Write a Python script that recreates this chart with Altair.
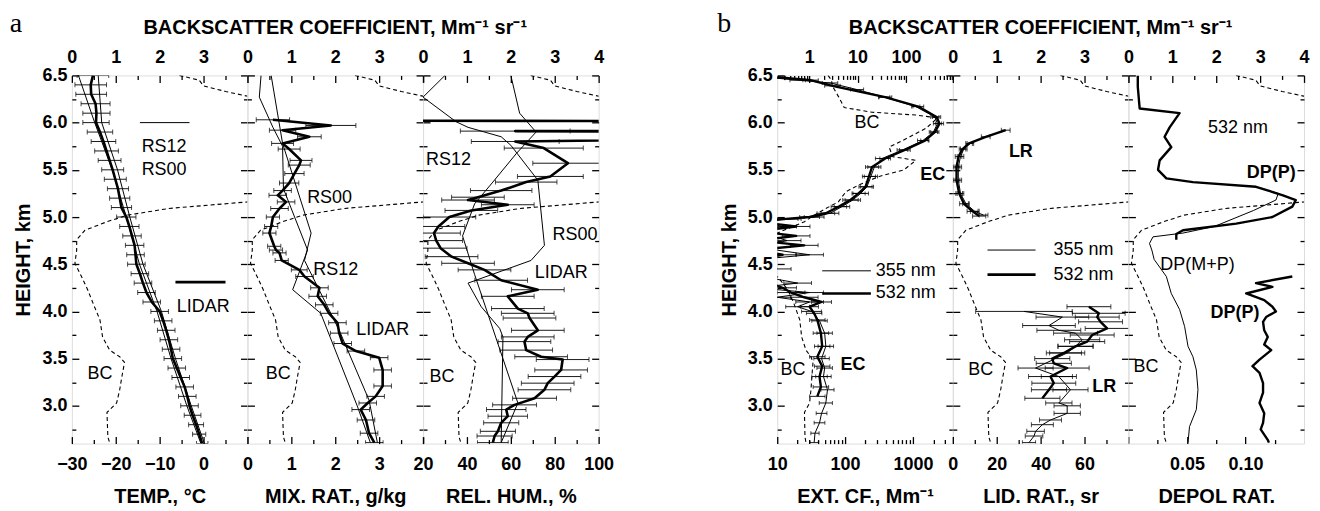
import altair as alt
import pandas as pd

FONT = "Liberation Sans"
W, HGT = 176, 369

# ---------------- data ----------------
# backscatter coefficient (BC), Mm-1 sr-1, common to all panels
BC_H = [6.50, 6.45, 6.39, 6.33, 6.27, 6.16, 6.11, 6.08, 6.05, 5.94, 5.81, 5.74, 5.64, 5.60, 5.50, 5.43, 5.34, 5.27,
        5.16, 5.09, 5.02, 4.95, 4.86, 4.76, 4.65, 4.51, 4.36, 4.23, 4.09, 3.91, 3.73, 3.59, 3.52, 3.46, 3.31, 3.17,
        3.03, 2.93, 2.67, 2.61]
BC_V = [2.45, 2.9, 3.0, 3.5, 4.1, 5.3, 20, 160, 450, 260, 85, 45, 53, 160, 91, 28, 10.7, 5.8,
        4.0, 2.2, 1.27, 0.8, 0.3, 0.11, 0.11, 0.07, 0.23, 0.36, 0.48, 0.64, 0.70, 0.86, 1.09, 1.20, 1.14, 1.09,
        1.02, 0.80, 0.82, 0.86]

# (a) temperature
T_H = [6.5, 6.4, 6.3, 6.2, 6.1, 6.0, 5.9, 5.8, 5.7, 5.6, 5.5, 5.4, 5.3, 5.2, 5.1, 5.0, 4.9, 4.8, 4.7, 4.6,
       4.5, 4.4, 4.3, 4.2, 4.1, 4.0, 3.9, 3.8, 3.7, 3.6, 3.5, 3.4, 3.3, 3.2, 3.1, 3.0, 2.9, 2.8, 2.7, 2.6]
T_LIDAR = [-25.2, -25.7, -25.6, -24.6, -24.4, -24.5, -23.6, -22.8, -22.1, -21.4, -20.7, -20.1, -19.5, -19.1, -18.7,
           -17.6, -16.9, -16.3, -15.7, -15.5, -15.3, -14.5, -13.8, -13.0, -11.8, -10.0, -9.2, -8.5, -7.9, -7.4,
           -7.0, -6.1, -5.2, -4.3, -3.7, -3.2, -2.5, -1.7, -1.0, -0.3]
T_ERR = [3.6, 3.6, 3.5, 3.3, 3.1, 3.0, 2.9, 2.8, 2.7, 2.6, 2.5, 2.5, 2.4, 2.3, 2.3, 2.2, 2.2, 2.1, 2.1, 2.0,
         2.0, 2.0, 2.0, 2.0, 2.0, 2.0, 2.0, 2.0, 2.0, 2.0, 2.0, 2.0, 2.0, 2.0, 2.0, 2.0, 1.9, 1.7, 1.5, 1.3]
RS_T_H = [6.5, 6.0, 5.5, 5.0, 4.5, 4.0, 3.5, 3.0, 2.6]
RS12_T = [-28.5, -24.8, -20.8, -17.6, -14.6, -10.6, -7.4, -3.8, -0.6]
RS00_T = [-24.0, -23.2, -19.6, -16.8, -13.8, -9.6, -6.4, -2.8, 0.2]

# (a) mixing ratio
MR_H = [6.03, 5.97, 5.92, 5.85, 5.78, 5.72, 5.60, 5.55, 5.46, 5.36, 5.28, 5.23, 5.16, 5.09, 5.00, 4.90, 4.83,
        4.69, 4.65, 4.62, 4.54, 4.44, 4.37, 4.25, 4.16, 4.07, 3.98, 3.88, 3.77, 3.66, 3.58, 3.51, 3.38, 3.21,
        3.10, 3.03, 2.96, 2.85, 2.71, 2.61]
MR_LIDAR = [0.58, 1.90, 0.80, 1.41, 0.80, 0.95, 1.22, 1.18, 1.07, 0.95, 0.80, 0.69, 0.88, 0.73, 0.58, 0.54, 0.50,
            0.61, 0.65, 0.73, 0.78, 1.18, 1.30, 1.64, 1.60, 1.75, 1.86, 2.05, 2.09, 2.17, 2.47, 3.00, 3.08, 3.08,
            2.92, 2.74, 2.58, 2.70, 2.77, 2.89]
MR_ERR = [0.38, 0.57, 0.30, 0.27, 0.25, 0.25, 0.25, 0.25, 0.22, 0.22, 0.20, 0.20, 0.20, 0.20, 0.15, 0.15, 0.15,
          0.15, 0.15, 0.15, 0.15, 0.18, 0.20, 0.20, 0.20, 0.20, 0.20, 0.20, 0.20, 0.20, 0.20, 0.20, 0.20, 0.20,
          0.20, 0.20, 0.20, 0.20, 0.20, 0.20]
RS12_MR_H = [6.5, 6.27, 5.95, 5.75, 5.30, 4.65, 4.23, 3.98, 3.0, 2.61]
RS12_MR = [0.31, 0.27, 0.58, 0.80, 0.82, 1.37, 1.03, 1.67, 2.50, 2.80]
RS00_MR_H = [6.5, 5.78, 4.83, 4.54, 3.80, 3.06, 2.61]
RS00_MR = [0.54, 0.80, 1.45, 1.30, 2.09, 2.77, 2.96]

# (a) relative humidity
RH_H = [6.02, 6.01, 5.915, 5.91, 5.895, 5.865, 5.80, 5.73, 5.57, 5.43, 5.37, 5.28, 5.21, 5.18, 5.13, 5.07, 5.00,
        4.90, 4.83, 4.75, 4.67, 4.58, 4.51, 4.44, 4.33, 4.23, 4.16, 4.03, 3.98, 3.93, 3.80, 3.73, 3.68, 3.59, 3.52,
        3.49, 3.38, 3.31, 3.24, 3.17, 3.08, 3.01, 2.96, 2.89, 2.82, 2.73, 2.68, 2.61]
RH_LIDAR = [0, 300, 300, 62, 300, 300, 62, 75, 86, 78, 67, 55.6, 45, 40.5, 58.6, 42, 32,
            27, 25, 26, 28, 33, 40.5, 48, 55.6, 72.3, 58.6, 63.2, 67.7, 68.5, 72.3, 67.7, 66.2, 67, 73.8,
            83.6, 82.9, 79.9, 76.8, 75.3, 70.8, 61.7, 57.9, 58.6, 55.6, 54.1, 52.6, 51.8]
RH_ERR = [0, 0, 0, 25, 0, 0, 20, 18, 16, 15, 14, 14, 12, 12, 12, 12, 12,
          12, 12, 12, 12, 12, 12, 12, 12, 12, 12, 12, 12, 12, 12, 12, 12, 12, 12,
          12, 12, 12, 12, 12, 10, 10, 9, 9, 8, 8, 8, 7]
RS12_RH_H = [6.5, 6.1, 5.9, 5.67, 5.37, 5.14, 4.80, 4.39, 3.03, 2.61]
RS12_RH = [60, 64, 71.5, 62.4, 51.8, 43.5, 38, 43.5, 63.2, 55.6]
RS00_RH_H = [6.5, 6.27, 6.01, 5.95, 5.85, 5.76, 5.39, 4.70, 4.54, 4.30, 4.05, 3.82, 3.73, 2.61]
RS00_RH = [30, 20, 35, 40.5, 55.6, 60, 72.3, 75.3, 69.2, 40.5, 46.5, 54.9, 56.4, 55.6]

# (b) extinction coefficient, Mm-1
EC532_H = [6.48, 6.45, 6.39, 6.27, 6.17, 6.06, 5.99, 5.90, 5.81, 5.71, 5.62, 5.53, 5.43, 5.32, 5.25, 5.18, 5.11,
           5.04, 5.00, 4.98, 4.95, 4.90, 4.85, 4.80, 4.75, 4.70, 4.65, 4.60, 4.55, 4.45, 4.35, 4.25, 4.20, 4.15,
           4.10, 4.05, 3.98, 3.91, 3.77, 3.63, 3.52, 3.42, 3.31, 3.20, 3.10]
EC532 = [10, 31, 65, 390, 1200, 2230, 2460, 2100, 1500, 760, 390, 250, 225, 200, 158, 120, 81,
         52, 30, 13.5, 5, 19, 5, 19, 5, 25, 5, 12, 5, 8, 5, 12, 16, 25,
         45, 30, 35, 39, 44, 46, 39, 46, 42, 44, 39]
EC532_F = [1.3, 1.3, 1.3, 1.25, 1.2, 1.15, 1.15, 1.15, 1.15, 1.2, 1.2, 1.25, 1.25, 1.25, 1.25, 1.3, 1.3,
           1.35, 1.4, 1.5, 1, 1.6, 1, 1.6, 1, 1.6, 1, 1.6, 1, 1, 1, 1.6, 1.6, 1.6,
           1.4, 1.35, 1.3, 1.3, 1.3, 1.3, 1.3, 1.3, 1.3, 1.3, 1.3]
EC355_H = [6.47, 6.45, 6.42, 6.35, 6.27, 6.17, 6.06, 5.99, 5.90, 5.81, 5.71, 5.62, 5.53, 5.43, 5.32, 5.25, 5.18,
           5.11, 5.04, 5.00, 4.98, 4.96, 4.90, 4.85, 4.75, 4.68, 4.60, 4.55, 4.45, 4.38, 4.30, 4.25, 4.20, 4.15,
           4.10, 4.05, 4.00, 3.90, 3.77, 3.63, 3.50, 3.40, 3.31, 3.17, 3.03, 2.92, 2.82, 2.71, 2.61]
EC355 = [10, 20, 60, 150, 380, 1100, 2100, 2300, 2000, 1400, 700, 350, 270, 240, 210, 170, 130,
         90, 60, 35, 15, 5, 12, 5, 14, 5, 30, 5, 10, 5, 20, 5, 30, 10,
         30, 20, 32, 42, 50, 52, 45, 50, 48, 55, 52, 45, 42, 36, 35]
EC355_F = [1.3, 1.3, 1.3, 1.25, 1.2, 1.15, 1.15, 1.15, 1.15, 1.2, 1.2, 1.25, 1.25, 1.25, 1.25, 1.3, 1.3,
           1.3, 1.35, 1.4, 1.5, 1, 1.6, 1, 1.6, 1, 1.6, 1, 1.6, 1, 1.6, 1, 1.6, 1.6,
           1.6, 1.5, 1.4, 1.3, 1.3, 1.3, 1.3, 1.3, 1.3, 1.25, 1.25, 1.2, 1.2, 1.15, 1.15]

# (b) lidar ratio, sr
LR532_H = [5.92, 5.85, 5.78, 5.72, 5.64, 5.53, 5.39, 5.25, 5.14, 5.06, 5.01,
           4.05, 3.98, 3.94, 3.89, 3.82, 3.75, 3.68, 3.63, 3.56, 3.50, 3.45, 3.40, 3.31, 3.24, 3.17, 3.08]
LR532 = [24.1, 15, 7.4, 4.4, 2.6, 1.7, 1.7, 2.9, 5.1, 9, 12,
         62, 66.5, 65.8, 67.3, 70.3, 63.5, 61.2, 55.9, 50.6, 45.3, 46, 52.1, 44.5, 46, 43.8, 40.8]
LR532_ERR = [2, 2, 1.5, 1.5, 1.5, 1.5, 1.5, 1.5, 2, 2.5, 3,
             10, 12, 10, 10, 10, 10, 8, 8, 8, 8, 8, 10, 10, 10, 8, 8]
LR532_SEG = [1] * 11 + [2] * 16
LR355_H = [5.78, 5.72, 5.64, 5.53, 5.39, 5.25, 5.14, 5.06, 5.02,
           4.00, 3.94, 3.85, 3.80, 3.77, 3.70, 3.63, 3.56, 3.40, 3.31, 3.17, 3.03, 3.00, 2.92, 2.85, 2.80,
           2.73, 2.68, 2.61]
LR355 = [8, 5, 3.5, 2.5, 2.5, 3.5, 6, 10, 14,
         32.4, 49.9, 43.8, 48.3, 55.9, 58.9, 55.9, 52.1, 37.7, 48.3, 53.6, 48.3, 52.1, 52.1, 44.5, 40.8,
         37.7, 37, 34.7]
LR355_ERR = [1.5, 1.5, 1.5, 1.5, 1.5, 1.5, 1.5, 2, 2,
             22, 12, 12, 10, 10, 8, 8, 8, 8, 8, 8, 6, 6, 6, 5, 5,
             4, 4, 3]
LR355_SEG = [1] * 9 + [2] * 19

# (b) depolarization ratio
DPP_H = [6.50, 6.38, 6.15, 6.10, 5.95, 5.85, 5.74, 5.60, 5.50, 5.41, 5.37, 5.32, 5.23, 5.18, 5.11, 5.00, 4.93,
         4.86, 4.82, 4.76,
         4.37, 4.30, 4.26, 4.19, 4.12, 4.05, 4.00, 3.94, 3.89, 3.80, 3.73, 3.65, 3.59, 3.49, 3.42, 3.35, 3.24,
         3.14, 3.03, 2.92, 2.82, 2.75, 2.64, 2.61]
DPP = [0.008, 0.008, 0.0096, 0.0437, 0.0352, 0.0309, 0.0366, 0.0267, 0.0253, 0.0324, 0.0551, 0.109, 0.132, 0.143,
       0.140, 0.123, 0.092, 0.0466, 0.0409, 0.0409,
       0.140, 0.109, 0.123, 0.1006, 0.116, 0.123, 0.126, 0.1176, 0.115, 0.116, 0.119, 0.116, 0.122, 0.112, 0.106,
       0.112, 0.115, 0.115, 0.112, 0.116, 0.115, 0.113, 0.119, 0.120]
DPP_SEG = [1] * 20 + [2] * 24
DPMP_H = [5.32, 5.25, 5.18, 5.07, 4.90, 4.83, 4.79, 4.72, 4.65, 4.55, 4.37, 4.19, 4.02, 3.84, 3.63, 3.52, 3.38,
          3.17, 2.96, 2.78, 2.61]
DPMP = [0.109, 0.128, 0.126, 0.107, 0.0735, 0.0466, 0.021, 0.018, 0.020, 0.022, 0.0324, 0.0366, 0.0437, 0.048,
        0.0509, 0.0551, 0.058, 0.0594, 0.058, 0.0522, 0.0509]

# axis tick values
Y_MAJOR = [3.0, 3.5, 4.0, 4.5, 5.0, 5.5, 6.0, 6.5]
Y_MINOR = [2.75, 3.25, 3.75, 4.25, 4.75, 5.25, 5.75, 6.25]
BC_MAJOR = [0, 1, 2, 3, 4]
BC_MINOR = [0.5, 1.5, 2.5, 3.5]

TITLE = "BACKSCATTER COEFFICIENT, Mm⁻¹ sr⁻¹"

LBL = 18      # tick label size
TTL = 20      # axis title size
ANN = 18      # annotation size

# ---------------- helpers ----------------
YS = alt.Scale(domain=[2.6, 6.5], nice=False, zero=False)


def lin(lo, hi):
    return alt.Scale(domain=[lo, hi], nice=False, zero=False)


def logs(lo, hi):
    return alt.Scale(type="log", domain=[lo, hi], nice=False)


def AX(orient, values, size, labels=False, title=None, fmt=None, lpad=4, tpad=8, labelvals=None):
    kw = dict(orient=orient, values=values, offset=-size, tickSize=size, tickWidth=1.3, tickColor="black",
              domain=False, grid=False, labels=labels, ticks=True)
    if labels:
        kw.update(labelFont=FONT, labelFontSize=LBL, labelFontWeight="bold", labelColor="black",
                  labelPadding=lpad, labelOverlap=False, labelFlush=False)
        if fmt:
            kw["format"] = fmt
        if labelvals is not None:
            cond = " || ".join(f"abs(datum.value - {v}) < 1e-9" for v in labelvals)
            kw["labelExpr"] = f"({cond}) ? datum.label : ''"
    if title:
        kw.update(title=title, titleFont=FONT, titleFontSize=TTL, titleFontWeight="bold", titleColor="black",
                  titlePadding=tpad)
    else:
        kw["title"] = None
    return alt.Axis(**kw)


def ldf(h, v, seg=None):
    d = pd.DataFrame({"h": h, "x": v, "i": list(range(len(h)))})
    if seg is not None:
        d["seg"] = seg
    return d


def line(d, xs, width, dash=None):
    kw = dict(color="black", strokeWidth=width, clip=True, strokeJoin="round")
    if dash:
        kw["strokeDash"] = dash
    enc = dict(x=alt.X("x:Q", scale=xs, axis=None), y=alt.Y("h:Q", scale=YS, axis=None), order=alt.Order("i:Q"))
    if "seg" in d.columns:
        enc["detail"] = alt.Detail("seg:N")
    return alt.Chart(d).mark_line(**kw).encode(**enc)


def errbars(h, lo, hi, xs, cap=5):
    rows = [(a, b, c) for a, b, c in zip(h, lo, hi) if c > b]
    d = pd.DataFrame(rows, columns=["h", "lo", "hi"])
    rule = alt.Chart(d).mark_rule(color="black", strokeWidth=0.9, clip=True).encode(
        x=alt.X("lo:Q", scale=xs, axis=None), x2="hi:Q", y=alt.Y("h:Q", scale=YS, axis=None))
    c = pd.DataFrame({"h": list(d["h"]) * 2, "c": list(d["lo"]) + list(d["hi"])})
    caps = alt.Chart(c).mark_tick(orient="vertical", size=cap, thickness=1, color="black", clip=True).encode(
        x=alt.X("c:Q", scale=xs, axis=None), y=alt.Y("h:Q", scale=YS, axis=None))
    return [rule, caps]


def text(t, h, x, xs, bold=False, align="left", size=ANN):
    d = pd.DataFrame({"h": [h], "x": [x], "t": [t]})
    return alt.Chart(d).mark_text(align=align, baseline="middle", font=FONT, fontSize=size,
                                  fontWeight="bold" if bold else "normal", color="black").encode(
        x=alt.X("x:Q", scale=xs, axis=None), y=alt.Y("h:Q", scale=YS, axis=None), text="t:N")


def letter(t, px, py):
    d = pd.DataFrame({"t": [t]})
    return alt.Chart(d).mark_text(font="Liberation Serif", fontSize=28, align="center", baseline="alphabetic",
                                  color="black").encode(x=alt.value(px), y=alt.value(py), text="t:N")


def group_title(px, py):
    d = pd.DataFrame({"t": [TITLE]})
    return alt.Chart(d).mark_text(font=FONT, fontSize=TTL, fontWeight="bold", align="center",
                                  baseline="alphabetic", color="black").encode(
        x=alt.value(px), y=alt.value(py), text="t:N")


def anchor(xs_mid):
    return pd.DataFrame({"x": [xs_mid], "h": [4.5]})


BC_DF = ldf(BC_H, BC_V)


def panel(children, xs, mid, x_major, x_minor, bc_xs, bc_mid, top_major, top_minor, first=False):
    a = anchor(mid)
    y_left = AX("left", Y_MAJOR, 7, labels=first, title="HEIGHT, km" if first else None, fmt=".1f",
                lpad=5, tpad=8)
    axA = alt.Chart(a).mark_point(opacity=0).encode(
        x=alt.X("x:Q", scale=xs, axis=x_major), y=alt.Y("h:Q", scale=YS, axis=y_left))
    axB = alt.Chart(a).mark_point(opacity=0).encode(
        x=alt.X("x:Q", scale=xs, axis=x_minor), y=alt.Y("h:Q", scale=YS, axis=AX("left", Y_MINOR, 4)))
    main = alt.layer(*children, axA, axB).resolve_axis(x="independent", y="independent")
    b = anchor(bc_mid)
    bcl = line(BC_DF, bc_xs, 1.1, dash=[4, 3])
    axC = alt.Chart(b).mark_point(opacity=0).encode(
        x=alt.X("x:Q", scale=bc_xs, axis=top_major), y=alt.Y("h:Q", scale=YS, axis=AX("right", Y_MAJOR, 7)))
    axD = alt.Chart(b).mark_point(opacity=0).encode(
        x=alt.X("x:Q", scale=bc_xs, axis=top_minor), y=alt.Y("h:Q", scale=YS, axis=AX("right", Y_MINOR, 4)))
    bc = alt.layer(bcl, axC, axD).resolve_axis(x="independent", y="independent")
    return alt.layer(main, bc).resolve_scale(x="independent").resolve_axis(
        x="independent", y="independent").properties(width=W, height=HGT)


BCS = lin(0, 4)


def top_axes(labelvals):
    return (AX("top", BC_MAJOR, 7, labels=True, fmt="d", lpad=9, labelvals=labelvals),
            AX("top", BC_MINOR, 4))


def bottom(values, title, fmt, labelvals=None):
    return AX("bottom", values, 7, labels=True, title=title, fmt=fmt, lpad=12, tpad=13, labelvals=labelvals)


# ---- panel a1: temperature ----
XT = lin(-30, 10)
a1_children = [
    line(ldf(RS_T_H, RS12_T), XT, 1),
    line(ldf(RS_T_H, RS00_T), XT, 1),
    *errbars(T_H, [v - e for v, e in zip(T_LIDAR, T_ERR)], [v + e for v, e in zip(T_LIDAR, T_ERR)], XT),
    line(ldf(T_H, T_LIDAR), XT, 2.6),
    line(ldf([6.0, 6.0], [-14.5, -3.2]), XT, 1),
    line(ldf([4.31, 4.31], [-6.4, 5.0]), XT, 2.6),
    text("RS12", 5.74, -14.1, XT), text("RS00", 5.50, -14.1, XT), text("LIDAR", 4.05, -6.1, XT),
    text("BC", 3.34, -23.6, XT, align="center"),
    letter("a", -56, -44),
]
tm, tn = top_axes([0, 1, 2, 3])
a1 = panel(a1_children, XT, -10,
           bottom([-30, -20, -10, 0, 10], "TEMP., °C", "d", labelvals=[-30, -20, -10, 0]),
           AX("bottom", [-25, -15, -5, 5], 4), BCS, 2, tm, tn, first=True)

# ---- panel a2: mixing ratio ----
XM = lin(0, 4)
a2_children = [
    line(ldf(RS12_MR_H, RS12_MR), XM, 1),
    line(ldf(RS00_MR_H, RS00_MR), XM, 1),
    *errbars(MR_H, [v - e for v, e in zip(MR_LIDAR, MR_ERR)], [v + e for v, e in zip(MR_LIDAR, MR_ERR)], XM),
    line(ldf(MR_H, MR_LIDAR), XM, 2.6),
    text("RS00", 5.20, 1.36, XM), text("RS12", 4.44, 1.50, XM), text("LIDAR", 3.80, 2.48, XM),
    text("BC", 3.34, 0.70, XM, align="center"),
    group_title(88, -42),
]
tm, tn = top_axes([0, 1, 2, 3])
a2 = panel(a2_children, XM, 2, bottom([0, 1, 2, 3, 4], "MIX. RAT., g/kg", "d", labelvals=[0, 1, 2, 3]),
           AX("bottom", [0.5, 1.5, 2.5, 3.5], 4), BCS, 2, tm, tn)

# ---- panel a3: relative humidity ----
XR = lin(20, 100)
a3_children = [
    line(ldf(RS12_RH_H, RS12_RH), XR, 1),
    line(ldf(RS00_RH_H, RS00_RH), XR, 1),
    *errbars(RH_H, [v - e for v, e in zip(RH_LIDAR, RH_ERR)], [v + e for v, e in zip(RH_LIDAR, RH_ERR)], XR),
    line(ldf(RH_H, RH_LIDAR), XR, 2.6),
    text("RS12", 5.60, 21.4, XR), text("RS00", 4.81, 79, XR), text("LIDAR", 4.41, 70.9, XR),
    text("BC", 3.30, 28.6, XR, align="center"),
]
tm, tn = top_axes([0, 1, 2, 3, 4])
a3 = panel(a3_children, XR, 60, bottom([20, 40, 60, 80, 100], "REL. HUM., %", "d"),
           AX("bottom", [30, 50, 70, 90], 4), BCS, 2, tm, tn)

# ---- panel b1: extinction ----
XE = logs(10, 3870)
XBL = logs(0.219, 930)
b1_children = [
    *errbars(EC355_H, [v / f if v >= 10 else v for v, f in zip(EC355, EC355_F)],
             [v * f if v >= 10 else v for v, f in zip(EC355, EC355_F)], XE, cap=4),
    *errbars(EC532_H, [v / f if v >= 10 else v for v, f in zip(EC532, EC532_F)],
             [v * f if v >= 10 else v for v, f in zip(EC532, EC532_F)], XE, cap=4),
    line(ldf(EC355_H, EC355), XE, 1),
    line(ldf(EC532_H, EC532), XE, 2.4),
    line(ldf([4.43, 4.43], [46, 240]), XE, 1),
    line(ldf([4.19, 4.19], [46, 240]), XE, 2.6),
    text("355 nm", 4.43, 284, XE), text("532 nm", 4.19, 284, XE),
    text("BC", 6.0, 210, XE, align="center"), text("EC", 5.44, 1950, XE, bold=True, align="center"),
    text("EC", 3.43, 131, XE, bold=True, align="center"), text("BC", 3.38, 17, XE, align="center"),
    letter("b", -53, -44),
]
b1 = panel(b1_children, XE, 200,
           bottom([10, 100, 1000], "EXT. CF., Mm⁻¹", "d"),
           AX("bottom", [20, 30, 40, 50, 60, 70, 80, 90, 200, 300, 400, 500, 600, 700, 800, 900, 2000, 3000], 4),
           XBL, 10,
           AX("top", [1, 10, 100], 7, labels=True, fmt="d", lpad=9),
           AX("top", [0.3, 0.4, 0.5, 0.6, 0.7, 0.8, 0.9, 2, 3, 4, 5, 6, 7, 8, 9, 20, 30, 40, 50, 60, 70, 80, 90,
                      200, 300, 400, 500, 600, 700, 800, 900], 4),
           first=True)

# ---- panel b2: lidar ratio ----
XL = lin(0, 80)
b2_children = [
    *errbars(LR355_H, [v - e for v, e in zip(LR355, LR355_ERR)], [v + e for v, e in zip(LR355, LR355_ERR)], XL),
    *errbars(LR532_H, [v - e for v, e in zip(LR532, LR532_ERR)], [v + e for v, e in zip(LR532, LR532_ERR)], XL),
    line(ldf(LR355_H, LR355, LR355_SEG), XL, 1),
    line(ldf(LR532_H, LR532, LR532_SEG), XL, 2.4),
    line(ldf([4.65, 4.65], [15.8, 37.7]), XL, 1),
    line(ldf([4.39, 4.39], [15.8, 37.7]), XL, 2.6),
    text("355 nm", 4.65, 45.9, XL), text("532 nm", 4.39, 45.9, XL),
    text("LR", 5.69, 31, XL, bold=True, align="center"), text("LR", 3.20, 69, XL, bold=True, align="center"),
    text("BC", 3.38, 12.7, XL, align="center"),
    group_title(88, -42),
]
tm, tn = top_axes([0, 1, 2, 3])
b2 = panel(b2_children, XL, 40, bottom([0, 20, 40, 60, 80], "LID. RAT., sr", "d", labelvals=[0, 20, 40, 60]),
           AX("bottom", [10, 30, 50, 70], 4), BCS, 2, tm, tn)

# ---- panel b3: depolarization ratio ----
XD = lin(0, 0.15)
b3_children = [
    line(ldf(DPMP_H, DPMP), XD, 1),
    line(ldf(DPP_H, DPP, DPP_SEG), XD, 2.4),
    text("532 nm", 5.94, 0.068, XD), text("DP(P)", 5.47, 0.122, XD, bold=True, align="center"),
    text("DP(M+P)", 4.49, 0.059, XD, align="center"), text("DP(P)", 3.98, 0.091, XD, bold=True, align="center"),
    text("BC", 3.41, 0.015, XD, align="center"),
]
tm, tn = top_axes([0, 1, 2, 3, 4])
b3 = panel(b3_children, XD, 0.07, bottom([0.05, 0.10], "DEPOL RAT.", ".2f"),
           AX("bottom", [0.025, 0.075, 0.125], 4), BCS, 2, tm, tn)


def group(*panels):
    return alt.hconcat(*panels, spacing=0, bounds="flush")


chart = alt.hconcat(group(a1, a2, a3), group(b1, b2, b3), spacing=102).properties(
    padding={"left": 1, "top": 0, "right": 2, "bottom": 0}
).configure_view(stroke="black", strokeWidth=1.5).configure(background="white")

chart.save("out.html", embed_options={"renderer": "svg", "actions": False})
